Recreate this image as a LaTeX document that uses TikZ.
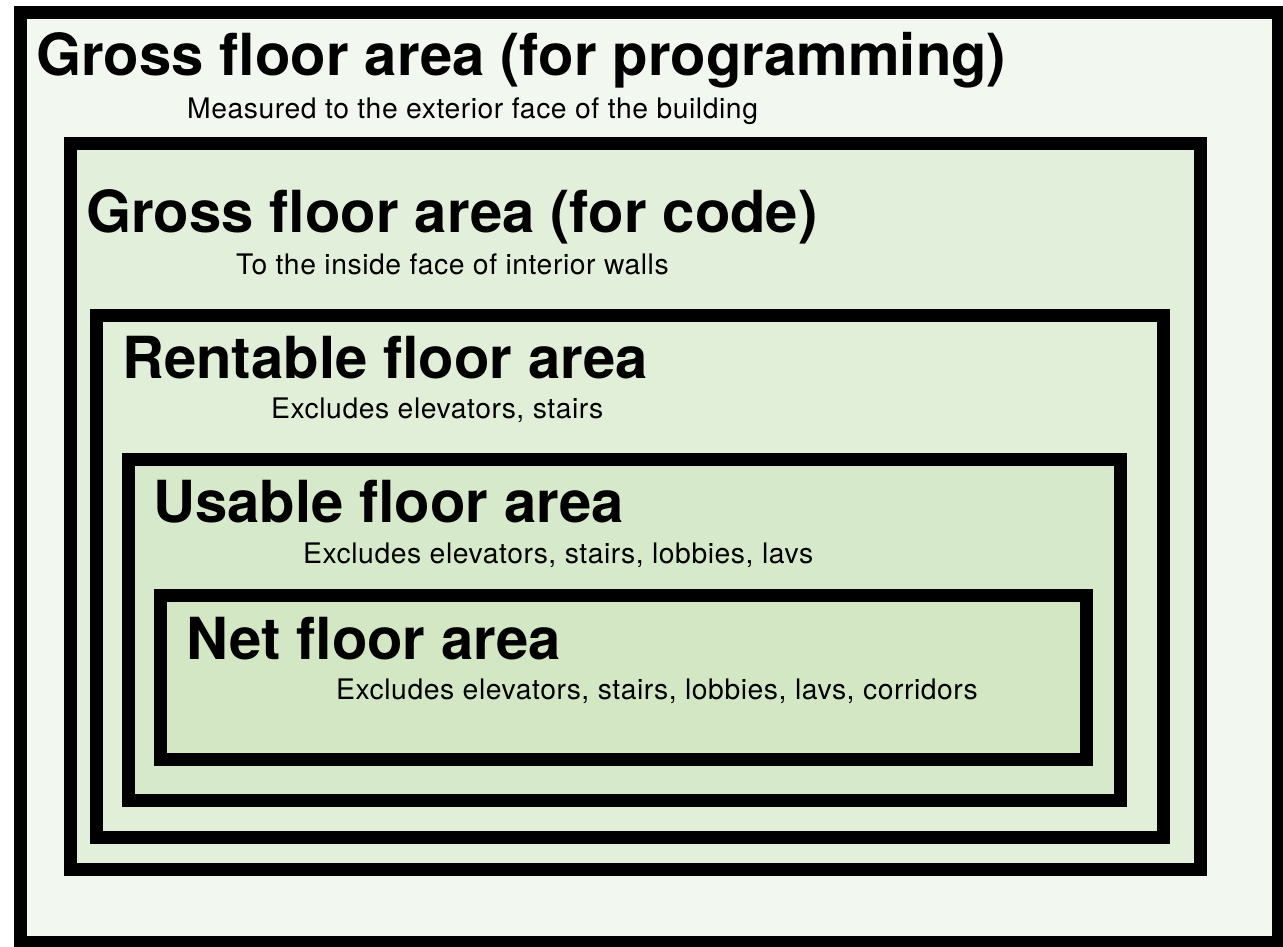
\documentclass[tikz,border=0pt]{standalone}
\usepackage{fontspec}
\setmainfont{TeX Gyre Heros}
\newfontfamily\notefont[LetterSpace=2]{TeX Gyre Heros}
\definecolor{progfill}{RGB}{242,247,239}
\definecolor{codefill}{RGB}{226,239,218}
\definecolor{rentfill}{RGB}{225,239,217}
\definecolor{usefill}{RGB}{214,233,202}
\definecolor{netfill}{RGB}{211,231,197}

\begin{document}
\begin{tikzpicture}[x=1pt,y=-1pt,
        area/.style={line width=13pt},
        areatitle/.style={anchor=base west, inner sep=0pt, font=\fontsize{58}{60}\selectfont\bfseries},
        areanote/.style={anchor=base west, inner sep=0pt, font=\notefont\fontsize{28.3}{30}\selectfont}]
        \useasboundingbox (0,0) rectangle (1283,947);

        %Areas
        \draw[area, fill=progfill] (20.5,12.5) rectangle (1278.5,942);
        \draw[area, fill=codefill] (70.5,144) rectangle (1200,869);
        \draw[area, fill=rentfill] (96.5,315) rectangle (1163,837);
        \draw[area, fill=usefill] (128.5,459.5) rectangle (1120,800.5);
        \draw[area, fill=netfill] (160.5,595.5) rectangle (1086,759.5);

        %Titles
        \node[areatitle] (prog) at (36,76) {Gross floor area (for programming)};
        \node[areanote] (prognote) at (187,119) {Measured to the exterior face of the building};
        \node[areatitle] (code) at (86,233) {Gross floor area (for code)};
        \node[areanote] (codenote) at (236,274) {To the inside face of interior walls};
        \node[areatitle] (rent) at (122,378) {Rentable floor area};
        \node[areanote] (rentnote) at (271,418) {Excludes elevators, stairs};
        \node[areatitle] (use) at (153,522) {Usable floor area};
        \node[areanote] (usenote) at (303,563) {Excludes elevators, stairs, lobbies, lavs};
        \node[areatitle] (net) at (186,659) {Net floor area};
        \node[areanote] (netnote) at (336,699) {Excludes elevators, stairs, lobbies, lavs, corridors};
\end{tikzpicture}
\end{document}
